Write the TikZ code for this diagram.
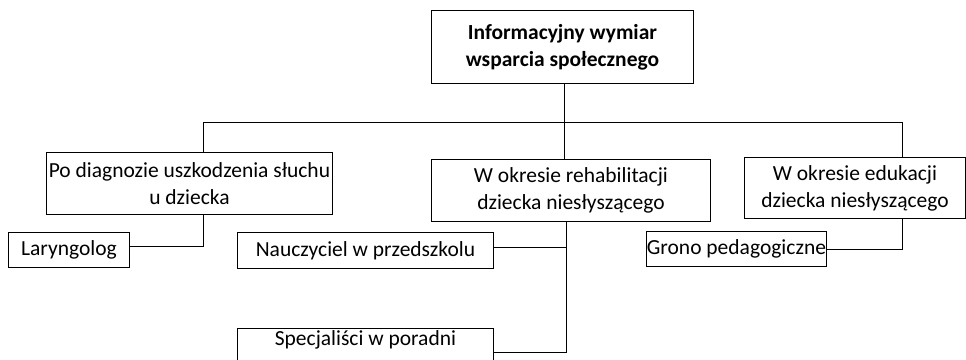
\documentclass[tikz,border=0pt]{standalone}
\usepackage{fontspec}
\setmainfont{Carlito}
\begin{document}
\begin{tikzpicture}[x=1pt,y=-1pt,
  box/.style={draw, line width=0.9pt, inner sep=0pt, anchor=north west, align=center,
    font=\fontsize{21.5}{27}\selectfont},
  link/.style={line width=0.9pt}]
\useasboundingbox (0,0) rectangle (966,359);

% boxes
\node[box, minimum width=262pt, minimum height=73pt, font=\fontsize{21.5}{27}\selectfont\bfseries]
  (top) at (431,10) {Informacyjny wymiar\\wsparcia społecznego};
\node[box, minimum width=286pt, minimum height=62pt] (left) at (46,152)
  {Po diagnozie uszkodzenia słuchu\\u dziecka};
\node[box, minimum width=279pt, minimum height=62pt] (mid) at (431,159)
  {W okresie rehabilitacji\\dziecka niesłyszącego};
\node[box, minimum width=221pt, minimum height=61pt] (right) at (744,157)
  {W okresie edukacji\\dziecka niesłyszącego};
\node[box, minimum width=121pt, minimum height=35pt] (lar) at (8,232) {Laryngolog};
\node[box, minimum width=256pt, minimum height=36pt] (nau) at (237,232) {Nauczyciel w przedszkolu};
\node[box, minimum width=180pt, minimum height=35pt] (gro) at (646,231) {Grono pedagogiczne};
% the last box runs past the lower edge of the page
\node[box, draw=none, minimum width=256pt, minimum height=22pt] (spec) at (237,328) {Specjaliści w poradni};
\draw[link] ([yshift=-20pt]spec.south west) |- (spec.north east) -- ([yshift=-20pt]spec.south east);

% junction points
\coordinate (busL) at (203,122);
\coordinate (busM) at (564,122);
\coordinate (busR) at (902,122);
\coordinate (midB) at (566,352);

% connectors
\draw[link] (top.south -| busM) -- (busM);
\draw[link] (left.north -| busL) -- (busL) -- (busR) -- (right.north -| busR);
\draw[link] (busM) -- (mid.north -| busM);
\draw[link] (left.south -| busL) |- ([yshift=3.5pt]lar.east);
\draw[link] (mid.south -| midB) -- (midB) -- (midB -| spec.east);
\draw[link] ([yshift=3pt]nau.east) -- ([yshift=3pt]nau.east -| midB);
\draw[link] (right.south -| busR) |- (gro.east);
\end{tikzpicture}
\end{document}
